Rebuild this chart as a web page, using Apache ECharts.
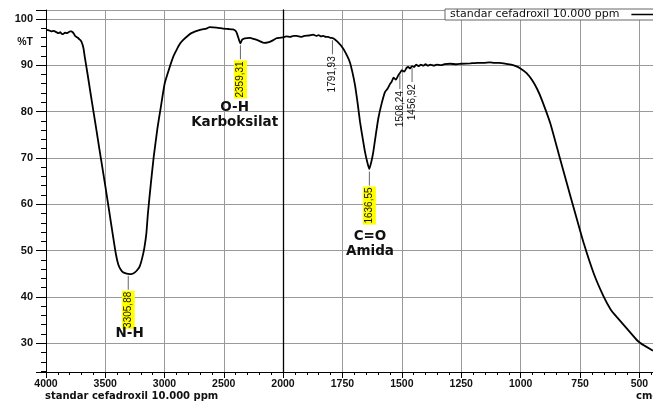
<!DOCTYPE html>
<html>
<head>
<meta charset="utf-8">
<script src="https://cdn.jsdelivr.net/npm/echarts@6/dist/echarts.min.js"></script>
<style>
  html, body { margin: 0; padding: 0; background: #fff; }
  #chart { width: 653px; height: 401px; }
</style>
</head>
<body>
<div id="chart"></div>
<script>
// spectrum, left panel 4000 - 2000 cm-1
var leftWave = [4000, 3975, 3955, 3935, 3912, 3895, 3880, 3868, 3856, 3840, 3825, 3810, 3796, 3786, 3775, 3765, 3754, 3743, 3730, 3720, 3710, 3701, 3690, 3682, 3673, 3650, 3625, 3600, 3575, 3550, 3525, 3500, 3468, 3436, 3410, 3390, 3370, 3350, 3320, 3294, 3270, 3250, 3230, 3209, 3190, 3170, 3153, 3140, 3115, 3091, 3060, 3032, 2998, 2956, 2925, 2900, 2870, 2844, 2800, 2773, 2700, 2646, 2619, 2560, 2506, 2460, 2422, 2400, 2388, 2372, 2360, 2345, 2323, 2281, 2240, 2197, 2160, 2127, 2090, 2056, 2030, 2000];
var leftT = [97.6, 97.5, 97.3, 97.4, 97.1, 96.9, 97.1, 96.8, 96.7, 97.0, 96.9, 97.1, 97.3, 97.3, 97.1, 96.8, 96.3, 96.1, 95.9, 95.6, 95.4, 95.1, 94.3, 93.4, 91.8, 88.2, 84.1, 80.1, 76.1, 72.0, 68.0, 64.0, 58.7, 53.4, 49.2, 47.0, 45.9, 45.3, 45.0, 44.9, 45.0, 45.3, 45.8, 46.6, 48.2, 50.6, 53.7, 58.0, 64.5, 70.2, 76.3, 80.8, 86.1, 89.6, 91.9, 93.2, 94.6, 95.4, 96.4, 96.9, 97.6, 97.9, 98.2, 98.1, 97.9, 97.8, 97.7, 97.4, 96.8, 95.5, 94.7, 95.5, 95.8, 95.9, 95.6, 95.2, 94.8, 94.9, 95.3, 95.8, 95.9, 96.0];

// spectrum, right panel 2000 - 443 cm-1
var rightWave = [2000, 1985, 1970, 1955, 1943, 1925, 1910, 1890, 1873, 1860, 1850, 1840, 1831, 1820, 1810, 1800, 1789, 1770, 1747, 1730, 1719, 1708, 1697, 1686, 1676, 1665, 1655, 1645, 1637, 1628, 1620, 1610, 1599, 1585, 1571, 1560, 1550, 1543, 1535, 1525, 1515, 1508, 1500, 1490, 1480, 1473, 1465, 1457, 1448, 1440, 1430, 1420, 1410, 1400, 1390, 1380, 1365, 1353, 1335, 1320, 1297, 1270, 1250, 1212, 1180, 1156, 1130, 1110, 1090, 1072, 1040, 1020, 1001, 975, 952, 930, 910, 875, 840, 805, 770, 734, 692, 650, 620, 594, 550, 509, 480, 443];
var rightT = [96.0, 96.2, 96.1, 96.3, 96.3, 96.1, 96.3, 96.4, 96.6, 96.3, 96.5, 96.2, 96.3, 96.1, 96.1, 95.9, 95.8, 95.0, 93.6, 92.0, 90.7, 88.5, 85.7, 81.8, 77.8, 74.3, 71.3, 69.0, 67.6, 69.2, 71.3, 74.8, 78.5, 81.7, 84.2, 84.9, 85.9, 86.4, 87.3, 86.9, 87.8, 88.3, 88.9, 88.6, 89.4, 89.6, 89.3, 89.8, 89.6, 90.1, 89.8, 90.1, 89.9, 90.2, 89.9, 90.1, 89.9, 90.1, 90.0, 90.2, 90.3, 90.2, 90.3, 90.4, 90.5, 90.5, 90.6, 90.5, 90.5, 90.4, 90.1, 89.8, 89.3, 88.3, 86.8, 84.8, 82.4, 77.4, 70.9, 64.4, 58.0, 51.5, 45.0, 40.0, 37.2, 35.6, 33.0, 30.6, 29.5, 28.4];

// peak picks: wavenumber, %T at peak, printed label
var peakWave = [3305.88, 2359.31, 1791.93, 1636.55, 1508.24, 1456.92];
var peakT = [45.0, 94.7, 95.8, 67.5, 88.3, 89.8];
var peakText = ['3305,88', '2359,31', '1791,93', '1636,55', '1508,24', '1456,92'];
var peakMarked = ['3305,88', '2359,31', '1636,55'];

// group assignments written in the plot
var groupWave = [3294, 2408, 1634];
var groupT = [32.1, 79.2, 51.5];
var groupText = ['N-H', 'O-H\nKarboksilat', 'C=O\nAmida'];

var yTicks = [30, 40, 50, 60, 70, 80, 90, 100];
var seriesName = 'standar cefadroxil 10.000 ppm';

var chart = echarts.init(document.getElementById('chart'));

function pairs(xs, ys) {
    var out = [];
    for (var i = 0; i < xs.length; i++) out.push([xs[i], ys[i]]);
    return out;
}

function marks(left) {
    var out = [];
    for (var i = 0; i < peakWave.length; i++) {
        if ((peakWave[i] >= 2000) !== left) continue;
        var marked = peakMarked.indexOf(peakText[i]) >= 0;
        out.push({
            name: peakText[i],
            coord: [peakWave[i], peakT[i]],
            symbol: 'rect',
            symbolSize: [1, 14],
            symbolOffset: [0, 9],
            itemStyle: { color: '#666' },
            label: {
                show: true,
                formatter: '{b}',
                position: 'bottom',
                distance: 1,
                rotate: 90,
                align: 'right',
                verticalAlign: 'middle',
                fontFamily: 'Liberation Sans',
                fontSize: 10,
                color: '#111',
                backgroundColor: marked ? '#ffff00' : 'transparent',
                padding: [2, 1, 1, 1]
            }
        });
    }
    for (var j = 0; j < groupWave.length; j++) {
        if ((groupWave[j] >= 2000) !== left) continue;
        out.push({
            name: groupText[j],
            coord: [groupWave[j], groupT[j]],
            symbol: 'circle',
            symbolSize: 0,
            label: {
                show: true,
                formatter: '{b}',
                position: 'inside',
                fontFamily: 'DejaVu Sans',
                fontWeight: 'bold',
                fontSize: 13.5,
                lineHeight: 15,
                color: '#111'
            }
        });
    }
    return out;
}

var gridLine = { show: true, lineStyle: { color: '#9a9a9a', width: 1 } };
var tickFont = { fontFamily: 'Liberation Sans', fontWeight: 'bold', fontSize: 10.5, color: '#111' };
function plain(v) { return String(Math.round(v)); }

var option = {
    animation: false,
    backgroundColor: '#fff',
    grid: [
        { left: 46, top: 10, width: 237, bottom: 29 },
        { left: 283, top: 10, right: 0, bottom: 29 }
    ],
    legend: {
        data: [{ name: seriesName, icon: 'rect' }],
        left: 445,
        top: 9,
        align: 'right',
        itemWidth: 30,
        itemHeight: 1.5,
        itemGap: 0,
        padding: [0, 12, 0, 5],
        borderColor: '#666',
        borderWidth: 1,
        borderRadius: 0,
        backgroundColor: '#fff',
        textStyle: { fontFamily: 'DejaVu Sans', fontSize: 11, color: '#111', lineHeight: 11, padding: [0, 7, 0, 0] }
    },
    xAxis: [{
        type: 'value',
        gridIndex: 0,
        min: 2000,
        max: 4000,
        interval: 500,
        inverse: true,
        axisLine: { lineStyle: { color: '#000', width: 1 } },
        axisTick: { length: 6, lineStyle: { color: '#000' } },
        minorTick: { show: true, splitNumber: 5, length: 3, lineStyle: { color: '#000' } },
        axisLabel: Object.assign({ margin: 7, formatter: plain }, tickFont),
        splitLine: gridLine
    }, {
        type: 'value',
        gridIndex: 1,
        min: 443,
        max: 2000,
        splitNumber: 6,
        minInterval: 250,
        maxInterval: 250,
        inverse: true,
        axisLine: { lineStyle: { color: '#000', width: 1 } },
        axisTick: { length: 6, lineStyle: { color: '#000' } },
        minorTick: { show: true, splitNumber: 5, length: 3, lineStyle: { color: '#000' } },
        axisLabel: Object.assign({ margin: 7, showMinLabel: false, showMaxLabel: false, formatter: plain }, tickFont),
        splitLine: gridLine
    }],
    yAxis: [{
        type: 'value',
        gridIndex: 0,
        min: 23.8,
        max: 101.9,
        splitNumber: 8,
        minInterval: 10,
        maxInterval: 10,
        axisLine: { show: true, lineStyle: { color: '#000', width: 1 } },
        axisTick: { show: true, length: 10, lineStyle: { color: '#000' } },
        minorTick: { show: true, splitNumber: 5, length: 5, lineStyle: { color: '#000' } },
        axisLabel: Object.assign({ margin: 13, showMinLabel: false, showMaxLabel: false,
            formatter: function (v) { return yTicks.indexOf(Math.round(v)) >= 0 ? String(Math.round(v)) : ''; }
        }, tickFont, { fontSize: 11 }),
        splitLine: gridLine
    }, {
        type: 'value',
        gridIndex: 1,
        min: 23.8,
        max: 101.9,
        splitNumber: 8,
        minInterval: 10,
        maxInterval: 10,
        axisLine: { show: true, lineStyle: { color: '#000', width: 1.3 } },
        axisTick: { show: false },
        axisLabel: { show: false },
        splitLine: gridLine
    }],
    series: [{
        name: seriesName,
        type: 'line',
        xAxisIndex: 0,
        yAxisIndex: 0,
        data: pairs(leftWave, leftT),
        symbol: 'none',
        smooth: 0.15,
        lineStyle: { color: '#000', width: 1.8 },
        itemStyle: { color: '#000' },
        markPoint: { data: marks(true) }
    }, {
        name: seriesName,
        type: 'line',
        xAxisIndex: 1,
        yAxisIndex: 1,
        data: pairs(rightWave, rightT),
        symbol: 'none',
        smooth: 0.15,
        lineStyle: { color: '#000', width: 1.8 },
        itemStyle: { color: '#000' },
        markPoint: { data: marks(false) }
    }],
    graphic: [{
        type: 'text',
        x: 33, y: 42,
        style: { text: '%T', align: 'right', verticalAlign: 'middle', font: 'bold 10.5px "Liberation Sans"', fill: '#111' }
    }, {
        type: 'text',
        x: 45, y: 396,
        style: { text: seriesName, align: 'left', verticalAlign: 'middle', font: 'bold 10px "DejaVu Sans"', fill: '#111' }
    }, {
        type: 'text',
        x: 636, y: 396,
        style: { text: 'cm-1', align: 'left', verticalAlign: 'middle', font: 'bold 10px "DejaVu Sans"', fill: '#111' }
    }]
};

chart.setOption(option);
</script>
</body>
</html>
